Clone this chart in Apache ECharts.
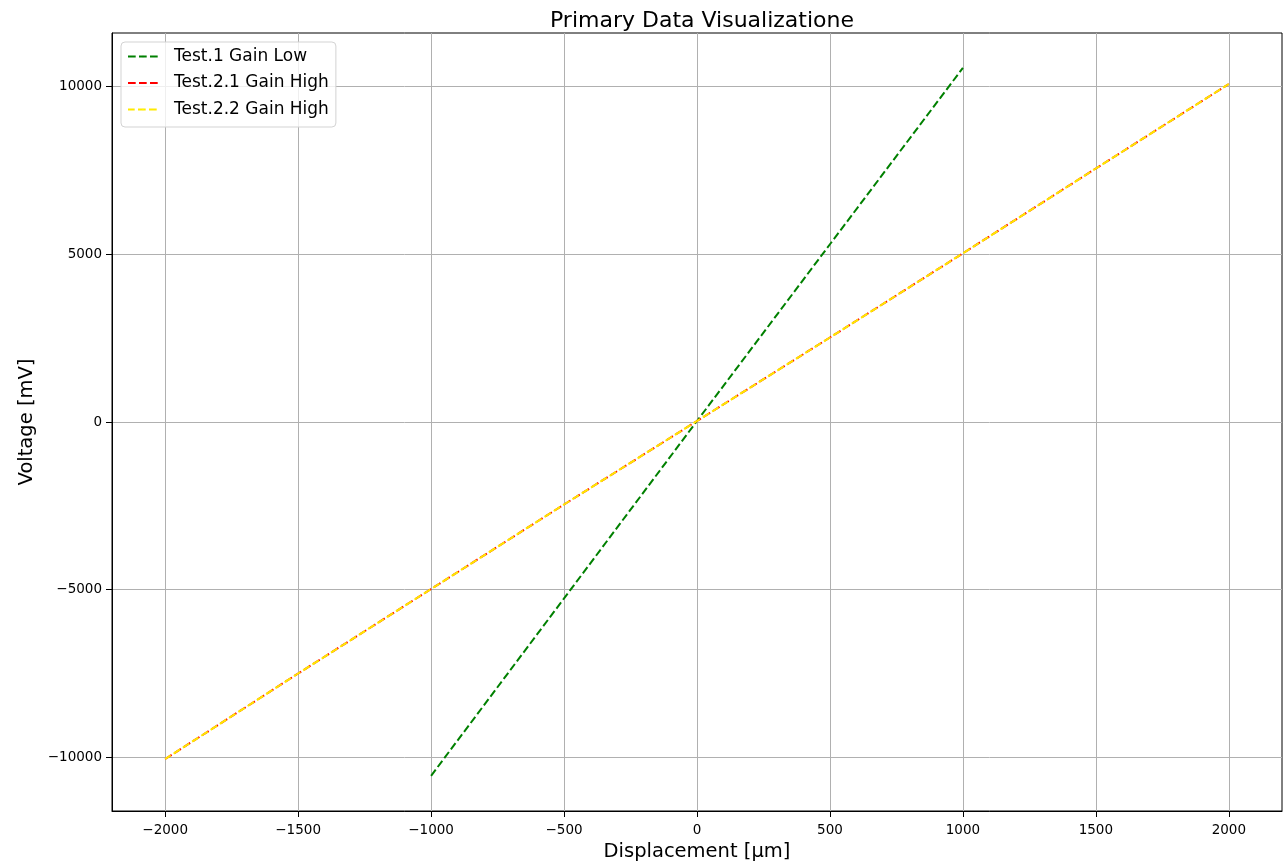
<!DOCTYPE html>
<html>
<head>
<meta charset="utf-8">
<title>Primary Data Visualizatione</title>
<script src="https://cdn.jsdelivr.net/npm/echarts@6/dist/echarts.min.js"></script>
<style>
  html, body { margin: 0; padding: 0; background: #fff; }
  #chart { width: 1287px; height: 862px; }
</style>
</head>
<body>
<div id="chart"></div>
<script>
// values
const lowX = [-1000, -500, 0, 500, 1000]
const lowY = [-10550, -5260, 30, 5300, 10560]
const high1X = [-2000, -1500, -1000, -500, 0, 500, 1000, 1500, 2000]
const high1Y = [-10050, -7500, -4980, -2460, 30, 2520, 5030, 7560, 10080]
const high2X = [-2000, -1500, -1000, -500, 0, 500, 1000, 1500, 2000]
const high2Y = [-10050, -7500, -4980, -2460, 30, 2520, 5030, 7560, 10080]
const xTicks = [-2000, -1500, -1000, -500, 0, 500, 1000, 1500, 2000]
const yTicks = [-10000, -5000, 0, 5000, 10000]

const pairs = (xs, ys) => xs.map((x, i) => [x, ys[i]])
const fmt = v => (v < 0 ? '\u2212' + Math.abs(v) : String(v))
const font = 'DejaVu Sans'
const dash = [7.7, 3.3]

const chart = echarts.init(document.getElementById('chart'))
const option = {
  animation: false,
  backgroundColor: '#fff',
  textStyle: { fontFamily: font },
  title: {
    text: 'Primary Data Visualizatione',
    left: 697,
    textAlign: 'center',
    top: 5,
    textStyle: { fontFamily: font, fontSize: 22, fontWeight: 'normal', color: '#000' }
  },
  legend: {
    left: 121,
    top: 42,
    orient: 'vertical',
    itemWidth: 30,
    itemHeight: 2,
    itemGap: 9.5,
    padding: [6, 7, 9, 6],
    backgroundColor: 'rgba(255,255,255,0.8)',
    borderColor: '#d3d3d3',
    borderWidth: 1,
    borderRadius: 4,
    textStyle: { fontFamily: font, fontSize: 17, color: '#000', padding: [0, 0, 0, 11] },
    data: ['Test.1 Gain Low', 'Test.2.1 Gain High', 'Test.2.2 Gain High']
  },
  grid: {
    left: 112,
    right: 5,
    top: 33,
    bottom: 51,
    outerBoundsMode: 'none',
    containLabel: false,
    show: true,
    borderColor: '#000',
    borderWidth: 1
  },
  xAxis: {
    type: 'value',
    min: -2200,
    max: 2200,
    name: 'Displacement [µm]',
    nameLocation: 'middle',
    nameGap: 29,
    nameTextStyle: { fontFamily: font, fontSize: 19.5, color: '#000' },
    axisLine: { show: true, onZero: false, lineStyle: { color: '#000' } },
    axisTick: { show: true, inside: false, length: 6, customValues: xTicks, lineStyle: { color: '#000' } },
    axisLabel: { customValues: xTicks, formatter: fmt, fontFamily: font, fontSize: 13.5, color: '#000', margin: 12 },
    splitLine: { show: true, lineStyle: { color: '#b0b0b0', width: 1 } }
  },
  yAxis: {
    type: 'value',
    min: -11600,
    max: 11600,
    name: 'Voltage [mV]',
    nameLocation: 'middle',
    nameGap: 73,
    nameTextStyle: { fontFamily: font, fontSize: 19.5, color: '#000' },
    axisLine: { show: true, onZero: false, lineStyle: { color: '#000' } },
    axisTick: { show: true, inside: false, length: 6, customValues: yTicks, lineStyle: { color: '#000' } },
    axisLabel: { customValues: yTicks, formatter: fmt, fontFamily: font, fontSize: 13.5, color: '#000', margin: 10 },
    splitLine: { show: true, lineStyle: { color: '#b0b0b0', width: 1 } }
  },
  series: [
    {
      name: 'Test.1 Gain Low',
      type: 'line',
      data: pairs(lowX, lowY),
      showSymbol: false,
      symbol: 'none',
      color: '#008000',
      lineStyle: { color: '#008000', width: 2, type: dash }
    },
    {
      name: 'Test.2.1 Gain High',
      type: 'line',
      data: pairs(high1X, high1Y),
      showSymbol: false,
      symbol: 'none',
      color: '#ff0000',
      lineStyle: { color: '#ff0000', width: 2, type: dash }
    },
    {
      name: 'Test.2.2 Gain High',
      type: 'line',
      data: pairs(high2X, high2Y),
      showSymbol: false,
      symbol: 'none',
      color: '#ffff00',
      lineStyle: { color: '#ffea00', width: 2, type: dash, dashOffset: 1 }
    }
  ]
}
chart.setOption(option)
window.addEventListener('resize', () => chart.resize())
</script>
</body>
</html>
